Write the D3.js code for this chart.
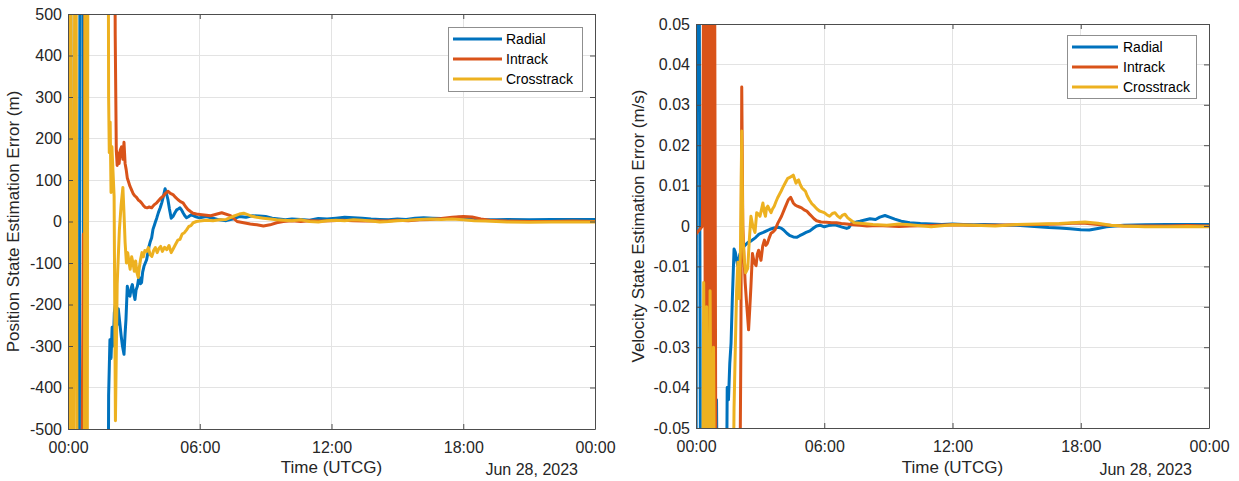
<!DOCTYPE html>
<html>
<head>
<meta charset="utf-8">
<script src="https://cdn.jsdelivr.net/npm/d3@7"></script>
<style>
  html, body { margin: 0; padding: 0; background: #fff; }
  svg { display: block; font-family: "Liberation Sans", Arial, sans-serif; }
</style>
</head>
<body>
<svg id="chart" width="1239" height="481"></svg>
<script>
// ---- data: [hours since 00:00, estimation error] ----
const seriesNames = ["Radial", "Intrack", "Crosstrack"];
const seriesColors = ["#0072BD", "#D95319", "#EDB120"];

const hourTicks = [0, 6, 12, 18, 24];
const hourLabels = ["00:00", "06:00", "12:00", "18:00", "00:00"];
const dateLabel = "Jun 28, 2023";

const posTicks = [-500, -400, -300, -200, -100, 0, 100, 200, 300, 400, 500];
const velTicks = [-0.05, -0.04, -0.03, -0.02, -0.01, 0, 0.01, 0.02, 0.03, 0.04, 0.05];

// position error (m)
const posRadial = [
  [0,1200],[0.05,-110],[0.1,1500],[0.18,-1500],[0.5,-1500],[0.56,1500],[0.66,1500],[0.74,-1500],
  [1.78,-1500],[1.85,-420],[1.91,-285],[1.96,-330],[2.01,-255],[2.06,-300],[2.11,-220],[2.17,-195],
  [2.23,-250],[2.29,-210],[2.35,-240],[2.42,-275],[2.48,-300],[2.55,-320],[2.6,-270],[2.64,-236],
  [2.7,-156],[2.76,-175],[2.82,-180],[2.88,-160],[2.93,-152],[2.99,-172],[3.05,-188],[3.1,-165],
  [3.16,-156],[3.21,-140],[3.25,-135],[3.3,-150],[3.35,-147],[3.4,-122],[3.46,-108],[3.52,-100],
  [3.58,-92],[3.64,-75],[3.69,-60],[3.75,-48],[3.81,-39],[3.87,-19],[3.94,-8],[4.0,2],[4.04,8],
  [4.12,22],[4.2,33],[4.27,45],[4.35,62],[4.42,79],[4.48,68],[4.55,53],[4.62,30],[4.7,8],[4.78,12],
  [4.87,21],[4.95,28],[5.02,30],[5.1,33],[5.17,28],[5.24,21],[5.32,14],[5.4,9],[5.5,12],[5.6,16],
  [5.7,14],[5.8,12],[5.9,10],[6.0,9],[6.3,12],[6.6,8],[6.9,4],[7.2,2],[7.5,6],[7.8,12],[8.1,10],
  [8.4,14],[8.7,13],[9.0,12],[9.3,8],[9.6,6],[9.9,4],[10.2,6],[10.6,5],[11.0,3],[11.4,7],[11.8,6],
  [12.2,8],[12.6,10],[13.0,9],[13.4,8],[13.8,6],[14.2,5],[14.6,4],[15.0,6],[15.4,5],[15.8,8],
  [16.2,9],[16.6,8],[17.0,7],[17.4,8],[17.8,10],[18.2,8],[18.6,5],[19.0,4],[19.5,4],[20,5],
  [21,4],[22,5],[23,5],[24,5]
];
const posIntrack = [
  [0,-250],[0.04,-170],[0.09,-1400],[0.6,-1400],[0.66,-390],[0.7,-30],[0.74,-380],[0.8,1500],
  [2.08,1500],[2.15,450],[2.2,170],[2.24,135],[2.28,165],[2.33,140],[2.38,172],[2.44,180],[2.5,150],
  [2.55,191],[2.6,140],[2.65,125],[2.7,105],[2.76,95],[2.82,85],[2.88,78],[2.96,68],[3.04,62],
  [3.12,58],[3.2,52],[3.28,49],[3.36,44],[3.44,38],[3.52,34],[3.6,33],[3.7,35],[3.81,33],[3.92,40],
  [4.04,45],[4.12,50],[4.2,55],[4.33,61],[4.44,68],[4.55,73],[4.66,68],[4.78,65],[4.9,58],[5.0,53],
  [5.12,48],[5.24,45],[5.35,36],[5.46,29],[5.58,24],[5.69,20],[5.85,18],[6.0,17],[6.5,14],[7.0,21],
  [7.4,14],[7.7,0],[8.0,-3],[8.3,-6],[8.6,-8],[8.9,-11],[9.2,-8],[9.5,-3],[9.8,0],[10.2,2],[10.6,0],
  [11,2],[11.5,1],[12,2],[12.5,3],[13,2],[13.5,1],[14,2],[14.5,1],[15,3],[15.5,2],[16,4],[16.5,5],
  [17,7],[17.5,10],[18,12],[18.4,11],[18.8,6],[19.2,3],[19.6,2],[20,1],[21,0],[22,0],[23,1],[24,0]
];
const posCrosstrack = [
  [0,-170],[0.05,-1500],[0.1,1500],[0.22,-1500],[0.34,1500],[0.44,-1500],[0.72,-1500],[0.8,1500],
  [0.86,-1500],[0.92,1500],[1.8,1500],[1.85,300],[1.88,166],[1.92,240],[1.96,70],[2.0,180],
  [2.05,120],[2.1,60],[2.16,-480],[2.24,-150],[2.34,-20],[2.42,40],[2.5,82],[2.55,20],[2.6,-50],
  [2.66,-100],[2.72,-75],[2.77,-95],[2.83,-115],[2.9,-85],[2.96,-100],[3.02,-120],[3.08,-95],
  [3.14,-123],[3.2,-135],[3.25,-110],[3.31,-90],[3.37,-75],[3.43,-85],[3.5,-70],[3.58,-72],
  [3.66,-63],[3.74,-80],[3.82,-84],[3.9,-70],[3.98,-63],[4.06,-75],[4.14,-65],[4.22,-60],[4.3,-72],
  [4.4,-62],[4.5,-68],[4.6,-58],[4.7,-75],[4.8,-65],[4.9,-55],[5.0,-45],[5.1,-43],[5.2,-30],
  [5.3,-27],[5.4,-20],[5.5,-12],[5.6,-10],[5.7,-3],[5.85,0],[6.0,1],[6.3,3],[6.6,2],[6.9,4],
  [7.2,5],[7.5,12],[7.8,18],[8.0,20],[8.3,14],[8.6,10],[8.9,8],[9.2,6],[9.5,4],[9.8,3],[10.2,2],
  [10.6,4],[11.0,0],[11.4,-1],[11.8,2],[12.2,3],[12.6,2],[13.0,4],[13.4,3],[13.8,1],[14.2,-1],
  [14.6,0],[15.0,2],[15.5,3],[16,5],[16.5,6],[17,5],[17.5,6],[18,4],[18.5,2],[19,1],[19.5,0],
  [20,-1],[21,-2],[22,-1],[23,-1],[24,-1]
];

// velocity error (m/s)
const velRadial = [
  [0,-0.09],[0.04,0.09],[0.14,0.09],[0.22,-0.09],[0.9,-0.09],[0.96,-0.043],[1.02,-0.09],[1.4,-0.09],
  [1.46,-0.040],[1.52,-0.043],[1.58,-0.034],[1.64,-0.029],[1.7,-0.018],[1.78,-0.0057],[1.84,-0.0065],
  [1.89,-0.0081],[1.95,-0.0098],[2.05,-0.007],[2.15,-0.006],[2.25,-0.005],[2.35,-0.0045],[2.45,-0.004],
  [2.55,-0.0038],[2.68,-0.0033],[2.8,-0.0028],[2.95,-0.002],[3.15,-0.0016],[3.3,-0.0012],[3.46,-0.0008],
  [3.65,-0.0005],[3.85,-0.0003],[4.0,-0.0006],[4.1,-0.001],[4.25,-0.0018],[4.4,-0.0024],[4.55,-0.0027],
  [4.71,-0.0028],[4.85,-0.0024],[5.0,-0.002],[5.15,-0.0016],[5.33,-0.0012],[5.5,-0.0005],[5.64,0.0],
  [5.8,0.0002],[6.0,-0.0002],[6.2,0.0001],[6.5,0.0003],[6.8,-0.0002],[7.05,-0.0006],[7.15,-0.0004],
  [7.3,0.0008],[7.5,0.001],[7.67,0.0012],[7.9,0.0015],[8.14,0.0018],[8.4,0.0016],[8.6,0.0022],
  [8.84,0.0026],[9.05,0.0022],[9.3,0.0017],[9.6,0.0012],[10.0,0.0008],[10.5,0.0006],[11,0.0005],
  [11.5,0.0004],[12,0.0005],[12.5,0.0004],[13,0.0003],[13.5,0.0004],[14,0.0003],[14.5,0.0002],
  [15,0.0002],[15.5,0.0],[16,-0.0002],[16.5,-0.0004],[17,-0.0005],[17.5,-0.0007],[18,-0.0009],
  [18.4,-0.001],[18.8,-0.0006],[19.2,-0.0002],[19.6,0.0],[20,0.0002],[21,0.0003],[22,0.0004],
  [23,0.0004],[24,0.0004]
];
const velIntrack = [
  [0,-0.002],[0.3,0.0],[0.38,0.09],[0.46,-0.09],[0.54,0.09],[0.62,-0.09],[0.7,0.09],[0.78,-0.09],
  [0.86,0.09],[0.94,-0.09],[2.02,-0.09],[2.1,-0.03],[2.14,0.0344],[2.19,0.0],[2.25,-0.0082],
  [2.3,-0.014],[2.38,-0.02],[2.46,-0.0257],[2.52,-0.02],[2.57,-0.0149],[2.64,-0.0068],[2.72,-0.009],
  [2.81,-0.0098],[2.87,-0.007],[2.93,-0.006],[3.04,-0.0085],[3.12,-0.005],[3.2,-0.0035],[3.27,-0.0048],
  [3.34,-0.0043],[3.42,-0.003],[3.51,-0.0018],[3.6,-0.0015],[3.69,-0.001],[3.83,0.0007],[4.0,0.0024],
  [4.16,0.0045],[4.32,0.0065],[4.43,0.0071],[4.55,0.0057],[4.64,0.0052],[4.74,0.0049],[4.84,0.0047],
  [4.94,0.0045],[5.06,0.004],[5.18,0.0037],[5.3,0.003],[5.41,0.0024],[5.52,0.0018],[5.64,0.0013],
  [5.85,0.001],[6.1,0.0009],[6.35,0.0008],[6.57,0.0008],[6.8,0.0006],[7.05,0.0005],[7.35,0.0003],
  [7.67,0.0002],[8.0,0.0],[8.5,0.0001],[9.0,0.0],[9.5,-0.0001],[10,0.0],[11,0.0001],[12,0.0003],
  [13,0.0002],[14,0.0002],[15,0.0003],[16,0.0004],[17,0.0005],[17.6,0.0007],[18.2,0.0007],
  [18.8,0.0004],[19.5,0.0001],[20,0.0],[21,0.0],[22,0.0],[23,0.0001],[24,0.0]
];
const velCrosstrack = [
  [0,-0.09],[0.3,-0.09],[0.36,-0.014],[0.42,-0.09],[0.5,-0.02],[0.58,-0.09],[0.66,-0.016],
  [0.74,-0.09],[0.82,-0.03],[0.9,-0.09],[1.7,-0.09],[1.78,-0.045],[1.84,-0.03],[1.9,-0.016],
  [1.96,-0.009],[2.02,-0.018],[2.08,-0.006],[2.14,0.0235],[2.19,-0.002],[2.25,-0.008],[2.32,-0.0116],
  [2.42,-0.0105],[2.5,-0.003],[2.57,0.0024],[2.66,0.0],[2.76,-0.0016],[2.84,0.0033],[2.92,0.003],
  [2.99,0.0024],[3.06,0.004],[3.13,0.0057],[3.19,0.0035],[3.25,0.0024],[3.3,0.0045],[3.36,0.0049],
  [3.44,0.004],[3.51,0.0033],[3.58,0.0042],[3.66,0.0049],[3.74,0.006],[3.82,0.007],[3.9,0.0078],
  [3.98,0.0086],[4.06,0.0095],[4.13,0.0102],[4.21,0.011],[4.29,0.0118],[4.37,0.012],[4.45,0.0122],
  [4.55,0.0126],[4.62,0.0115],[4.68,0.0106],[4.74,0.0112],[4.8,0.0114],[4.88,0.0102],[4.96,0.0094],
  [5.04,0.009],[5.12,0.0086],[5.2,0.0075],[5.3,0.0065],[5.42,0.0055],[5.54,0.0049],[5.66,0.0042],
  [5.78,0.0037],[5.9,0.0035],[6.0,0.0033],[6.12,0.0028],[6.25,0.0024],[6.38,0.0031],[6.5,0.0033],
  [6.62,0.0025],[6.74,0.002],[6.86,0.0027],[6.97,0.0029],[7.1,0.002],[7.2,0.0016],[7.4,0.0008],
  [7.81,0.0006],[8.28,0.0004],[8.93,0.0002],[9.5,0.0005],[10,0.0003],[11,-0.0002],[12,0.0003],
  [13,0.0002],[14,0.0],[15,0.0004],[16,0.0005],[17,0.0006],[17.6,0.0008],[18.2,0.001],[18.8,0.0007],
  [19.4,0.0002],[20,0.0],[21,-0.0002],[22,-0.0002],[23,-0.0001],[24,-0.0002]
];

// ---- drawing ----
const svg = d3.select("#chart");

const panels = [
  {
    id: "pos",
    box: { left: 68, right: 595, top: 14, bottom: 429 },
    yDomain: [-500, 500], yTicks: posTicks, yFmt: d => String(d),
    series: [posRadial, posIntrack, posCrosstrack],
    yTitle: "Position State Estimation Error (m)", yTitleX: 13.5,
    legend: { x: 448, y: 27, w: 134, h: 64, rows: [39, 59, 79], lineX: [453, 502], textX: 506 }
  },
  {
    id: "vel",
    box: { left: 696, right: 1209, top: 24, bottom: 428 },
    yDomain: [-0.05, 0.05], yTicks: velTicks, yFmt: d => (d === 0 ? "0" : d.toFixed(2)),
    series: [velRadial, velIntrack, velCrosstrack],
    yTitle: "Velocity State Estimation Error (m/s)", yTitleX: 638,
    legend: { x: 1067, y: 35, w: 129, h: 63, rows: [47, 67, 87], lineX: [1072, 1118], textX: 1123 }
  }
];

const axisColor = "#4d4d4d";
const gridColor = "#e3e3e3";

panels.forEach(p => {
  const b = p.box;
  const x = d3.scaleLinear().domain([0, 24]).range([b.left, b.right]);
  const y = d3.scaleLinear().domain(p.yDomain).range([b.bottom, b.top]);
  const g = svg.append("g").attr("class", "panel-" + p.id);

  // grid
  g.append("g").selectAll("line.vg").data(hourTicks.slice(1, -1)).join("line")
    .attr("x1", d => x(d)).attr("x2", d => x(d))
    .attr("y1", b.top).attr("y2", b.bottom)
    .attr("stroke", gridColor).attr("stroke-width", 1).attr("shape-rendering", "crispEdges");
  g.append("g").selectAll("line.hg").data(p.yTicks.filter(v => v !== p.yDomain[0] && v !== p.yDomain[1])).join("line")
    .attr("x1", b.left).attr("x2", b.right)
    .attr("y1", d => y(d)).attr("y2", d => y(d))
    .attr("stroke", gridColor).attr("stroke-width", 1).attr("shape-rendering", "crispEdges");

  // series lines, clipped to the plot box
  const clipId = "clip-" + p.id;
  svg.append("clipPath").attr("id", clipId).append("rect")
    .attr("x", b.left).attr("y", b.top)
    .attr("width", b.right - b.left).attr("height", b.bottom - b.top);
  const line = d3.line().x(d => x(d[0])).y(d => y(d[1]));
  const lg = g.append("g").attr("clip-path", `url(#${clipId})`);
  p.series.forEach((s, i) => {
    lg.append("path").datum(s)
      .attr("d", line)
      .attr("fill", "none")
      .attr("stroke", seriesColors[i])
      .attr("stroke-width", 3)
      .attr("stroke-linejoin", "round")
      .attr("stroke-linecap", "butt");
  });

  // axes: labelled bottom/left, tick-only top/right (ticks point inward)
  const fmtHour = (d, i) => hourLabels[i];
  const bottom = g.append("g").attr("transform", `translate(0,${b.bottom})`)
    .call(d3.axisBottom(x).tickValues(hourTicks).tickFormat(fmtHour).tickSizeInner(-5).tickSizeOuter(0).tickPadding(13));
  const top = g.append("g").attr("transform", `translate(0,${b.top})`)
    .call(d3.axisTop(x).tickValues(hourTicks).tickFormat("").tickSizeInner(-5).tickSizeOuter(0));
  const left = g.append("g").attr("transform", `translate(${b.left},0)`)
    .call(d3.axisLeft(y).tickValues(p.yTicks).tickFormat(p.yFmt).tickSizeInner(-5).tickSizeOuter(0).tickPadding(6));
  const right = g.append("g").attr("transform", `translate(${b.right},0)`)
    .call(d3.axisRight(y).tickValues(p.yTicks).tickFormat("").tickSizeInner(-5).tickSizeOuter(0));
  [bottom, top, left, right].forEach(a => {
    a.select(".domain").attr("stroke", axisColor);
    a.selectAll(".tick line").attr("stroke", axisColor);
    a.selectAll(".tick text").attr("fill", "#262626")
      .style("font-size", "16px").style("font-family", '"Liberation Sans", Arial, sans-serif');
  });

  // axis titles
  g.append("text")
    .attr("transform", `translate(${p.yTitleX},${(b.top + b.bottom) / 2}) rotate(-90)`)
    .attr("text-anchor", "middle").attr("dy", "0.35em")
    .attr("fill", "#262626").style("font-size", "17px")
    .text(p.yTitle);
  g.append("text")
    .attr("x", (b.left + b.right) / 2).attr("y", 473)
    .attr("text-anchor", "middle")
    .attr("fill", "#262626").style("font-size", "17px")
    .text("Time (UTCG)");
  g.append("text")
    .attr("x", b.right - 17).attr("y", 474.5)
    .attr("text-anchor", "end")
    .attr("fill", "#262626").style("font-size", "16px")
    .text(dateLabel);

  // legend
  const L = p.legend;
  const leg = g.append("g");
  leg.append("rect").attr("x", L.x + 0.5).attr("y", L.y + 0.5).attr("width", L.w).attr("height", L.h)
    .attr("fill", "#fff").attr("stroke", "#8f8f8f").attr("stroke-width", 1);
  seriesNames.forEach((name, i) => {
    leg.append("line")
      .attr("x1", L.lineX[0]).attr("x2", L.lineX[1])
      .attr("y1", L.rows[i]).attr("y2", L.rows[i])
      .attr("stroke", seriesColors[i]).attr("stroke-width", 3);
    leg.append("text")
      .attr("x", L.textX).attr("y", L.rows[i]).attr("dy", "0.35em")
      .attr("fill", "#000").style("font-size", "14px")
      .text(name);
  });
});
</script>
</body>
</html>
